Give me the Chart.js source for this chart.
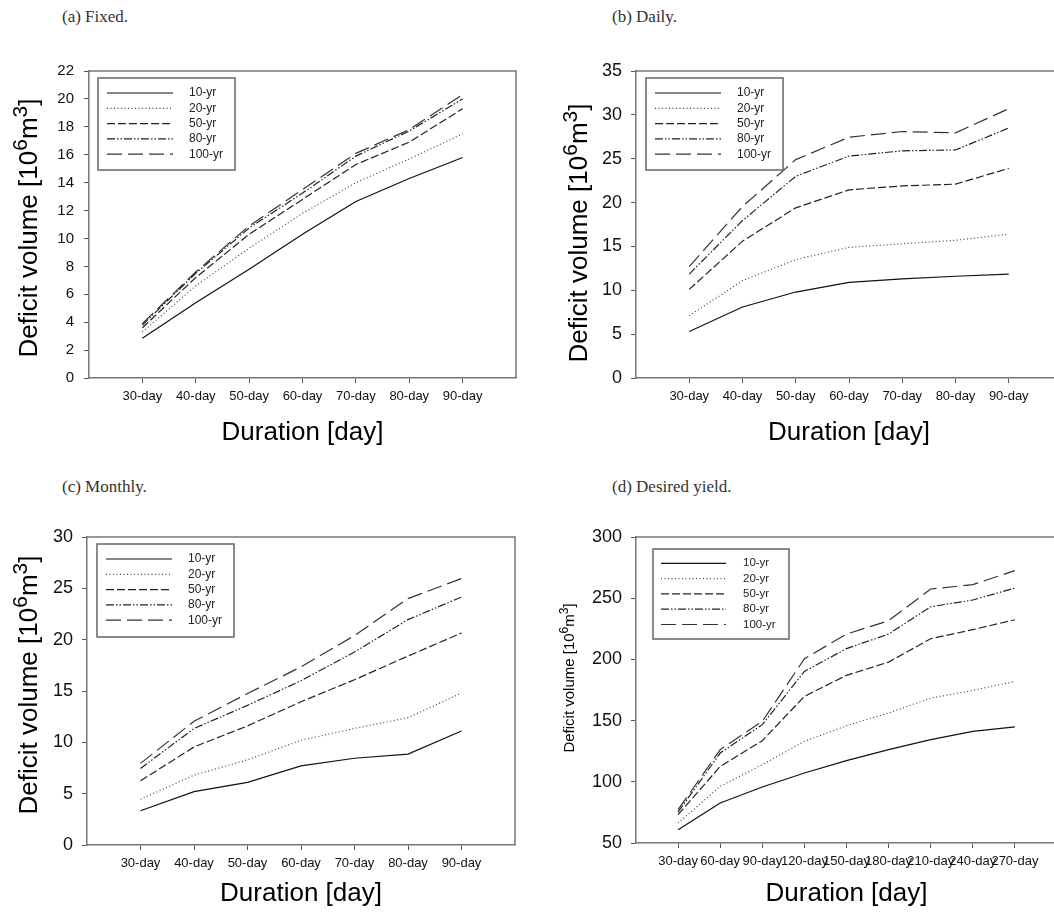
<!DOCTYPE html>
<html>
<head>
<meta charset="utf-8">
<script src="https://cdn.jsdelivr.net/npm/chart.js@4.4.0/dist/chart.umd.min.js"></script>
<style>
  html, body { margin: 0; padding: 0; background: #fff; overflow: hidden; width: 1054px; height: 913px; }
  .cap { position: absolute; font-family: "Liberation Serif", "Times New Roman", serif; font-size: 17px; color: #333; white-space: nowrap; }
  canvas { position: absolute; }
</style>
</head>
<body>
<div class="cap" style="left:62px;top:7px">(a) Fixed.</div>
<div class="cap" style="left:612px;top:7px">(b) Daily.</div>
<div class="cap" style="left:62px;top:477px">(c) Monthly.</div>
<div class="cap" style="left:612px;top:477px">(d) Desired yield.</div>
<canvas id="chartA"></canvas>
<canvas id="chartB"></canvas>
<canvas id="chartC"></canvas>
<canvas id="chartD"></canvas>
<script>
// return periods
const seriesNames = ['10-yr', '20-yr', '50-yr', '80-yr', '100-yr'];
// durations
const shortDurations = ['30-day', '40-day', '50-day', '60-day', '70-day', '80-day', '90-day'];
const longDurations = ['30-day', '60-day', '90-day', '120-day', '150-day', '180-day', '210-day', '240-day', '270-day'];

// (a) Fixed
const fixed10 = [2.85, 5.4, 7.8, 10.3, 12.65, 14.3, 15.8];
const fixed20 = [3.3, 6.6, 9.3, 11.8, 14.0, 15.7, 17.5];
const fixed50 = [3.6, 7.2, 10.3, 12.8, 15.3, 16.9, 19.3];
const fixed80 = [3.8, 7.5, 10.75, 13.25, 15.9, 17.7, 20.0];
const fixed100 = [3.9, 7.6, 10.9, 13.5, 16.1, 17.8, 20.3];

// (b) Daily
const daily10 = [5.3, 8.1, 9.8, 10.9, 11.3, 11.6, 11.85];
const daily20 = [7.1, 11.1, 13.5, 14.9, 15.3, 15.7, 16.4];
const daily50 = [10.1, 15.6, 19.4, 21.45, 21.9, 22.1, 23.9];
const daily80 = [11.85, 17.95, 23.0, 25.3, 25.9, 26.0, 28.5];
const daily100 = [12.7, 19.55, 24.9, 27.45, 28.1, 27.95, 30.7];

// (c) Monthly
const monthly10 = [3.34, 5.2, 6.1, 7.7, 8.45, 8.85, 11.1];
const monthly20 = [4.45, 6.8, 8.3, 10.2, 11.35, 12.4, 14.8];
const monthly50 = [6.25, 9.55, 11.6, 13.95, 16.1, 18.4, 20.65];
const monthly80 = [7.45, 11.35, 13.6, 16.0, 18.8, 21.95, 24.15];
const monthly100 = [7.95, 12.05, 14.75, 17.35, 20.4, 24.0, 25.95];

// (d) Desired yield
const yield10 = [60.9, 82.7, 95.8, 107.2, 117.3, 126.3, 134.4, 141.2, 144.8];
const yield20 = [66.3, 96.3, 114, 133, 145.8, 156.2, 168.4, 174.7, 182];
const yield50 = [73.1, 112.6, 133.6, 169.8, 187, 197.8, 216.9, 224.3, 232.4];
const yield80 = [75.3, 123.5, 146.7, 190.2, 208.8, 220.7, 243, 248.5, 258.3];
const yield100 = [77.2, 126.3, 149.4, 200.5, 220.7, 231.6, 257.5, 261.1, 272.5];

const xTitle = 'Duration [day]';
const yTitleParts = [['Deficit volume [10', false], ['6', true], ['m', false], ['3', true], [']', false]];

const SANS = "'Liberation Sans', Arial, sans-serif";
const lineDash = [[], [1, 2.5], [8, 3], [8, 2, 1.5, 2, 1.5, 2], [15, 6]];
const lineColor = ['#111', '#444', '#222', '#222', '#333'];
const axisColor = '#777';

// top + right border of the plot frame
const framePlugin = {
  id: 'frame',
  afterDraw(chart) {
    const { ctx, chartArea: a } = chart;
    ctx.save();
    ctx.strokeStyle = axisColor;
    ctx.lineWidth = 1.5;
    ctx.beginPath();
    ctx.moveTo(a.left, a.top);
    ctx.lineTo(a.right, a.top);
    ctx.lineTo(a.right, a.bottom);
    ctx.stroke();
    ctx.restore();
  }
};

// boxed legend inside the plot, like the original figure
const boxLegendPlugin = {
  id: 'boxLegend',
  afterDraw(chart, args, opts) {
    const { ctx, chartArea: a } = chart;
    const x = a.left + opts.x, y = a.top + opts.y;
    ctx.save();
    ctx.strokeStyle = '#666';
    ctx.lineWidth = 1.5;
    ctx.strokeRect(x, y, opts.w, opts.h);
    ctx.font = opts.fontSize + 'px ' + SANS;
    ctx.fillStyle = '#222';
    ctx.textBaseline = 'middle';
    chart.data.datasets.forEach((ds, i) => {
      const ry = y + opts.row0 + i * opts.rowGap;
      ctx.strokeStyle = ds.borderColor;
      ctx.lineWidth = 1.2;
      ctx.setLineDash(ds.borderDash);
      ctx.beginPath();
      ctx.moveTo(x + opts.lineFrom, ry);
      ctx.lineTo(x + opts.lineTo, ry);
      ctx.stroke();
      ctx.setLineDash([]);
      ctx.fillText(ds.label, x + opts.textX, ry);
    });
    ctx.restore();
  }
};

// rotated y title with superscripts
const yTitlePlugin = {
  id: 'yTitle',
  afterDraw(chart, args, opts) {
    const { ctx, chartArea: a } = chart;
    const size = opts.size, sup = Math.round(size * 0.8);
    let total = 0;
    const widths = yTitleParts.map(p => {
      ctx.font = (p[1] ? sup : size) + 'px ' + SANS;
      const w = ctx.measureText(p[0]).width;
      total += w;
      return w;
    });
    ctx.save();
    ctx.translate(a.left + opts.dx, a.top + opts.dy);
    ctx.rotate(-Math.PI / 2);
    ctx.fillStyle = '#000';
    ctx.textBaseline = 'alphabetic';
    let x = -total / 2;
    const base = size * 0.36;
    yTitleParts.forEach((p, i) => {
      ctx.font = (p[1] ? sup : size) + 'px ' + SANS;
      ctx.fillText(p[0], x, p[1] ? base - size * 0.4 : base);
      x += widths[i];
    });
    ctx.restore();
  }
};

function makeChart(id, cfg) {
  const canvas = document.getElementById(id);
  canvas.width = cfg.box.w;
  canvas.height = cfg.box.h;
  canvas.style.left = cfg.box.x + 'px';
  canvas.style.top = cfg.box.y + 'px';
  const labels = cfg.labels;
  new Chart(canvas, {
    type: 'line',
    data: {
      datasets: cfg.series.map((vals, i) => ({
        label: seriesNames[i],
        data: vals.map((v, j) => ({ x: j + 1, y: v })),
        borderColor: lineColor[i],
        borderDash: lineDash[i],
        borderWidth: 1.2,
        pointRadius: 0,
        fill: false,
        tension: 0
      }))
    },
    options: {
      responsive: false,
      animation: false,
      layout: { padding: cfg.pad },
      plugins: {
        legend: { display: false },
        tooltip: { enabled: false },
        boxLegend: cfg.legend,
        yTitle: cfg.yTitle
      },
      scales: {
        x: {
          type: 'linear',
          min: 0,
          max: labels.length + 1,
          afterBuildTicks: s => { s.ticks = s.ticks.filter(t => t.value >= 1 && t.value <= labels.length); },
          afterFit: s => { s.height = cfg.xH; },
          ticks: {
            stepSize: 1,
            autoSkip: false,
            maxRotation: 0,
            minRotation: 0,
            padding: 6,
            color: '#111',
            font: { family: SANS, size: 13 },
            callback: v => labels[v - 1] || ''
          },
          grid: { drawOnChartArea: false, drawTicks: true, tickLength: 5, color: '#555' },
          border: { display: true, color: axisColor, width: 1.5 },
          title: {
            display: true,
            text: xTitle,
            color: '#000',
            font: { family: SANS, size: 26 },
            padding: 0
          }
        },
        y: {
          min: cfg.yMin,
          max: cfg.yMax,
          afterFit: s => { s.width = cfg.yW; },
          ticks: {
            stepSize: cfg.yStep,
            padding: cfg.yPad,
            color: '#111',
            font: { family: SANS, size: cfg.yFont }
          },
          grid: { drawOnChartArea: false, drawTicks: true, tickLength: 5, color: '#555' },
          border: { display: true, color: axisColor, width: 1.5 }
        }
      }
    },
    plugins: [framePlugin, boxLegendPlugin, yTitlePlugin]
  });
}

const legendBase = { w: 137, h: 92, row0: 15, rowGap: 15.3, lineFrom: 9, lineTo: 75, textX: 91, fontSize: 12 };

makeChart('chartA', {
  box: { x: 0, y: 40, w: 520, h: 420 },
  pad: { left: 0, top: 31, right: 4, bottom: 12 },
  yW: 89, xH: 70, yPad: 10, yFont: 15,
  labels: shortDurations,
  series: [fixed10, fixed20, fixed50, fixed80, fixed100],
  yMin: 0, yMax: 22, yStep: 2,
  legend: Object.assign({}, legendBase, { x: 9, y: 7 }),
  yTitle: { dx: -61, dy: 157, size: 26 }
});

makeChart('chartB', {
  box: { x: 540, y: 40, w: 526, h: 420 },
  pad: { left: 0, top: 31, right: 4, bottom: 12 },
  yW: 96, xH: 70, yPad: 9, yFont: 18,
  labels: shortDurations,
  series: [daily10, daily20, daily50, daily80, daily100],
  yMin: 0, yMax: 35, yStep: 5,
  legend: Object.assign({}, legendBase, { x: 10, y: 7 }),
  yTitle: { dx: -58, dy: 162, size: 26 }
});

makeChart('chartC', {
  box: { x: 0, y: 505, w: 520, h: 420 },
  pad: { left: 0, top: 32, right: 5, bottom: 16 },
  yW: 87, xH: 64, yPad: 9, yFont: 18,
  labels: shortDurations,
  series: [monthly10, monthly20, monthly50, monthly80, monthly100],
  yMin: 0, yMax: 30, yStep: 5,
  legend: Object.assign({}, legendBase, { x: 10, y: 7, h: 93 }),
  yTitle: { dx: -59, dy: 148, size: 26 }
});

makeChart('chartD', {
  box: { x: 540, y: 505, w: 522, h: 420 },
  pad: { left: 0, top: 32, right: 5, bottom: 16 },
  yW: 96, xH: 66, yPad: 9, yFont: 18,
  labels: longDurations,
  series: [yield10, yield20, yield50, yield80, yield100],
  yMin: 50, yMax: 300, yStep: 50,
  legend: Object.assign({}, legendBase, { x: 17, y: 12, w: 136, h: 90, row0: 14.3, lineFrom: 8, lineTo: 73, textX: 90, fontSize: 11.5 }),
  yTitle: { dx: -67, dy: 141, size: 15 }
});
</script>
</body>
</html>
